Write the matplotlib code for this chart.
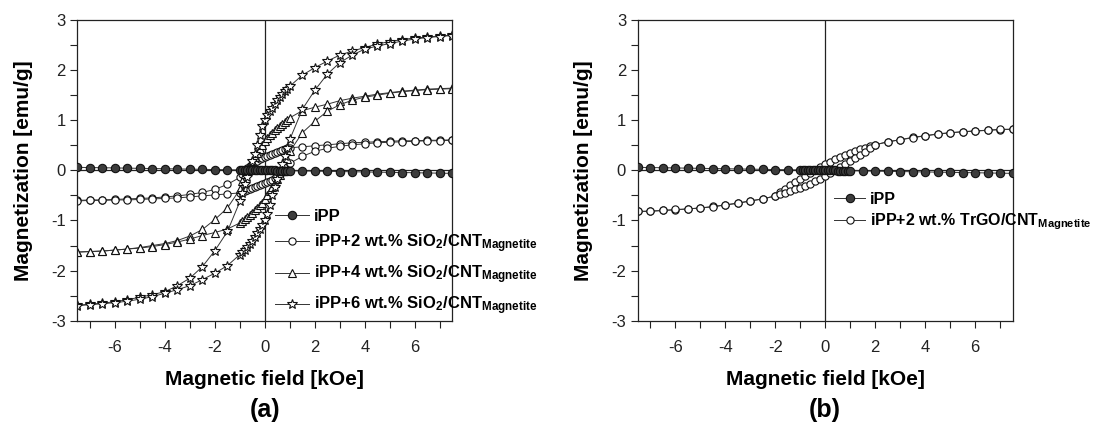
import matplotlib
matplotlib.use("Agg")
import matplotlib.pyplot as plt
from matplotlib.ticker import MultipleLocator

plt.rcParams["font.family"] = ["Liberation Sans", "DejaVu Sans"]
plt.rcParams["mathtext.fontset"] = "custom"
plt.rcParams["mathtext.rm"] = "Liberation Sans:bold"
plt.rcParams["mathtext.it"] = "Liberation Sans:bold"
plt.rcParams["mathtext.bf"] = "Liberation Sans:bold"

# field grid (kOe), dense between -1 and 1
field = [-7.5, -7, -6.5, -6, -5.5, -5, -4.5, -4, -3.5, -3, -2.5, -2, -1.5,
         -1.0, -0.9, -0.8, -0.7, -0.6, -0.5, -0.4, -0.3, -0.2, -0.1, 0.0,
         0.1, 0.2, 0.3, 0.4, 0.5, 0.6, 0.7, 0.8, 0.9, 1.0,
         1.5, 2, 2.5, 3, 3.5, 4, 4.5, 5, 5.5, 6, 6.5, 7, 7.5]

ipp = [0.060, 0.056, 0.052, 0.048, 0.044, 0.040, 0.036, 0.032, 0.028, 0.024, 0.020, 0.016, 0.012,
       0.008, 0.007, 0.006, 0.006, 0.005, 0.004, 0.003, 0.002, 0.002, 0.001, 0.000,
       -0.001, -0.002, -0.002, -0.003, -0.004, -0.005, -0.006, -0.006, -0.007, -0.008,
       -0.012, -0.016, -0.020, -0.024, -0.028, -0.032, -0.036, -0.040, -0.044, -0.048, -0.052, -0.056, -0.060]

# SiO2/CNT 2 wt.% - descending / ascending branch
sio2_2_down = [-0.60, -0.59, -0.59, -0.58, -0.57, -0.56, -0.55, -0.53, -0.51, -0.48, -0.44, -0.38, -0.28,
               -0.14, -0.07, -0.01, 0.04, 0.08, 0.12, 0.16, 0.19, 0.22, 0.24, 0.26,
               0.28, 0.30, 0.32, 0.34, 0.36, 0.38, 0.40, 0.42, 0.44, 0.45,
               0.47, 0.49, 0.51, 0.53, 0.55, 0.56, 0.57, 0.58, 0.59, 0.59, 0.60, 0.60, 0.61]
sio2_2_up = [-0.61, -0.60, -0.60, -0.59, -0.59, -0.58, -0.57, -0.56, -0.55, -0.53, -0.51, -0.49, -0.47,
             -0.45, -0.44, -0.42, -0.40, -0.38, -0.36, -0.34, -0.32, -0.30, -0.28, -0.26,
             -0.24, -0.22, -0.19, -0.16, -0.12, -0.08, -0.04, 0.01, 0.07, 0.14,
             0.28, 0.38, 0.44, 0.48, 0.51, 0.53, 0.55, 0.56, 0.57, 0.58, 0.59, 0.59, 0.60]

# 4 wt.%
sio2_4_down = [-1.63, -1.62, -1.61, -1.59, -1.57, -1.54, -1.50, -1.46, -1.40, -1.31, -1.18, -0.98, -0.75,
               -0.38, -0.22, -0.08, 0.02, 0.10, 0.18, 0.26, 0.34, 0.42, 0.50, 0.58,
               0.65, 0.70, 0.75, 0.80, 0.85, 0.89, 0.93, 0.97, 1.01, 1.05,
               1.19, 1.26, 1.32, 1.39, 1.44, 1.48, 1.52, 1.55, 1.58, 1.60, 1.62, 1.63, 1.64]
sio2_4_up = [-1.63, -1.62, -1.61, -1.59, -1.57, -1.55, -1.52, -1.48, -1.43, -1.37, -1.30, -1.24, -1.17,
             -1.05, -1.01, -0.97, -0.93, -0.89, -0.85, -0.80, -0.75, -0.70, -0.65, -0.58,
             -0.50, -0.42, -0.34, -0.26, -0.18, -0.10, -0.02, 0.08, 0.22, 0.38,
             0.75, 0.98, 1.18, 1.31, 1.40, 1.46, 1.50, 1.54, 1.57, 1.59, 1.61, 1.62, 1.63]

# 6 wt.%
sio2_6_down = [-2.69, -2.67, -2.65, -2.62, -2.58, -2.53, -2.48, -2.42, -2.30, -2.15, -1.92, -1.60, -1.22,
               -0.62, -0.45, -0.28, -0.13, 0.02, 0.18, 0.33, 0.50, 0.70, 0.88, 1.00,
               1.10, 1.18, 1.25, 1.33, 1.40, 1.46, 1.52, 1.58, 1.63, 1.68,
               1.90, 2.05, 2.18, 2.30, 2.38, 2.45, 2.52, 2.57, 2.61, 2.64, 2.66, 2.68, 2.70]
sio2_6_up = [-2.70, -2.68, -2.66, -2.64, -2.61, -2.57, -2.52, -2.45, -2.38, -2.30, -2.18, -2.05, -1.90,
             -1.68, -1.63, -1.58, -1.52, -1.46, -1.40, -1.33, -1.25, -1.18, -1.10, -1.00,
             -0.88, -0.70, -0.50, -0.33, -0.18, -0.02, 0.13, 0.28, 0.45, 0.62,
             1.22, 1.60, 1.92, 2.15, 2.30, 2.42, 2.48, 2.53, 2.58, 2.62, 2.65, 2.67, 2.69]

# TrGO/CNT 2 wt.%, dense between -2 and 2
field_b = [-7.5, -7, -6.5, -6, -5.5, -5, -4.5, -4, -3.5, -3, -2.5,
           -2.0, -1.8, -1.6, -1.4, -1.2, -1.0, -0.8, -0.6, -0.4, -0.2, 0.0,
           0.2, 0.4, 0.6, 0.8, 1.0, 1.2, 1.4, 1.6, 1.8, 2.0,
           2.5, 3, 3.5, 4, 4.5, 5, 5.5, 6, 6.5, 7, 7.5]
trgo_down = [-0.82, -0.82, -0.80, -0.79, -0.77, -0.75, -0.72, -0.69, -0.65, -0.61, -0.57,
             -0.51, -0.44, -0.37, -0.30, -0.24, -0.18, -0.12, -0.06, 0.00, 0.06, 0.12,
             0.17, 0.22, 0.27, 0.31, 0.35, 0.38, 0.42, 0.45, 0.48, 0.51,
             0.57, 0.61, 0.66, 0.69, 0.73, 0.75, 0.77, 0.78, 0.80, 0.81, 0.82]
trgo_up = [-0.82, -0.81, -0.80, -0.78, -0.77, -0.75, -0.73, -0.69, -0.66, -0.61, -0.57,
           -0.51, -0.48, -0.45, -0.42, -0.38, -0.35, -0.31, -0.27, -0.22, -0.17, -0.12,
           -0.06, 0.00, 0.06, 0.12, 0.18, 0.24, 0.30, 0.37, 0.44, 0.51,
           0.57, 0.61, 0.65, 0.69, 0.72, 0.75, 0.77, 0.79, 0.80, 0.82, 0.82]

labels_a = ["iPP",
            r"iPP+2 wt.% SiO$_2$/CNT$_{\mathrm{Magnetite}}$",
            r"iPP+4 wt.% SiO$_2$/CNT$_{\mathrm{Magnetite}}$",
            r"iPP+6 wt.% SiO$_2$/CNT$_{\mathrm{Magnetite}}$"]
labels_b = ["iPP", r"iPP+2 wt.% TrGO/CNT$_{\mathrm{Magnetite}}$"]

line_kw = dict(color="#333333", lw=0.7, markeredgecolor="#111111")
ipp_kw = dict(marker="o", ms=6, markerfacecolor="#3c3c3c", markeredgewidth=0.8, zorder=5)
circ_kw = dict(marker="o", ms=5.2, markerfacecolor="white", markeredgewidth=0.8)
tri_kw = dict(marker="^", ms=6, markerfacecolor="white", markeredgewidth=0.8)
star_kw = dict(marker="*", ms=7, markerfacecolor="white", markeredgewidth=0.8)

fig = plt.figure(figsize=(10.96, 4.34), dpi=100)
ax1 = fig.add_axes([0.0707, 0.261, 0.342, 0.693])
ax2 = fig.add_axes([0.582, 0.261, 0.342, 0.693])


def style(ax):
    ax.set_xlim(-7.5, 7.5)
    ax.set_ylim(-3, 3)
    ax.xaxis.set_minor_locator(MultipleLocator(1))
    ax.yaxis.set_minor_locator(MultipleLocator(0.5))
    ax.tick_params(which="both", direction="out", length=5, width=0.8,
                   labelsize=12, colors="#222222", top=False, right=False)
    ax.tick_params(axis="x", pad=9)
    ax.set_xticks([-6, -4, -2, 0, 2, 4, 6])
    ax.set_xticklabels(["-6", "-4", "-2", "0", "2", "4", "6"])
    ax.set_yticks([-3, -2, -1, 0, 1, 2, 3])
    ax.set_yticklabels(["-3", "-2", "-1", "0", "1", "2", "3"])
    for s in ax.spines.values():
        s.set_linewidth(0.9)
        s.set_color("#222222")
    ax.axvline(0, color="#222222", lw=0.9, zorder=1)
    ax.axhline(0, color="#222222", lw=0.9, zorder=1)
    ax.set_xlabel("Magnetic field [kOe]", fontsize=15, fontweight="bold", labelpad=11)
    ax.set_ylabel("Magnetization [emu/g]", fontsize=15, fontweight="bold", labelpad=13)


# panel (a)
h0, = ax1.plot(field, ipp, **line_kw, **ipp_kw)
h1, = ax1.plot(field, sio2_2_down, **line_kw, **circ_kw)
ax1.plot(field, sio2_2_up, **line_kw, **circ_kw)
h2, = ax1.plot(field, sio2_4_down, **line_kw, **tri_kw)
ax1.plot(field, sio2_4_up, **line_kw, **tri_kw)
h3, = ax1.plot(field, sio2_6_down, **line_kw, **star_kw)
ax1.plot(field, sio2_6_up, **line_kw, **star_kw)
style(ax1)
ax1.legend([h0, h1, h2, h3], labels_a, loc="upper left", bbox_to_anchor=(0.51, 0.395),
           frameon=False, numpoints=1, handlelength=2.0, handletextpad=0.3,
           labelspacing=0.52, borderaxespad=0,
           prop={"weight": "bold", "size": 12})
fig.text(0.2418, 0.055, "(a)", ha="center", va="center", fontsize=18, fontweight="bold")

# panel (b)
g0, = ax2.plot(field, ipp, **line_kw, **ipp_kw)
g1, = ax2.plot(field_b, trgo_down, **line_kw, **circ_kw)
ax2.plot(field_b, trgo_up, **line_kw, **circ_kw)
style(ax2)
ax2.legend([g0, g1], labels_b, loc="upper left", bbox_to_anchor=(0.505, 0.45),
           frameon=False, numpoints=1, handlelength=2.0, handletextpad=0.3,
           labelspacing=0.3, borderaxespad=0,
           prop={"weight": "bold", "size": 11.5})
fig.text(0.7528, 0.055, "(b)", ha="center", va="center", fontsize=18, fontweight="bold")

fig.savefig("out.png", dpi=100)
